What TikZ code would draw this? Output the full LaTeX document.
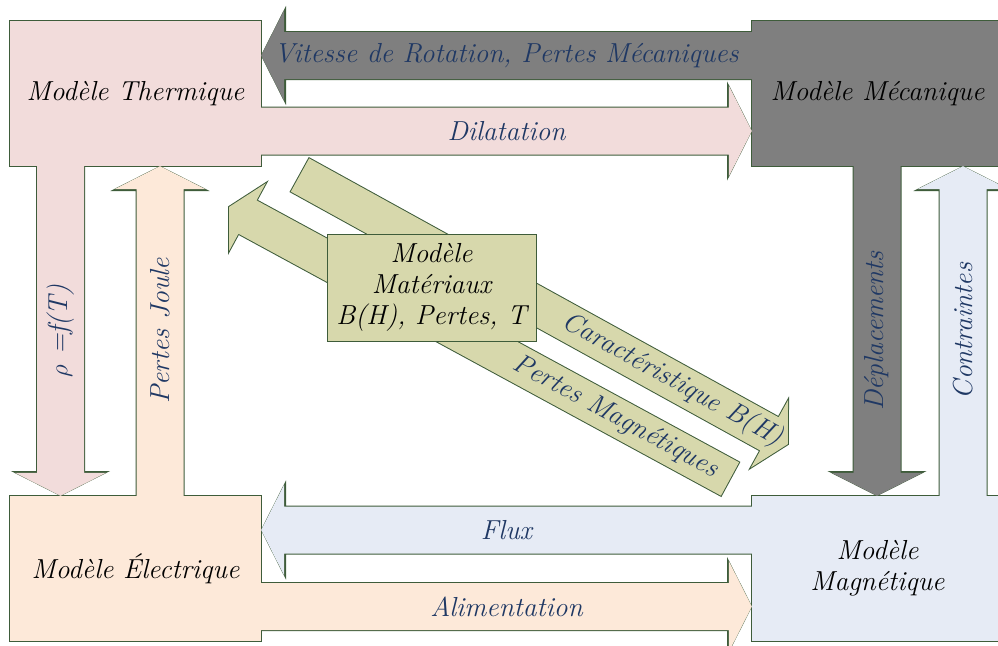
\documentclass[tikz,border=0pt]{standalone}
\usetikzlibrary{calc}

\definecolor{thermc}{RGB}{242,220,219}
\definecolor{elecc}{RGB}{253,233,217}
\definecolor{mecac}{RGB}{127,127,127}
\definecolor{magnc}{RGB}{230,235,245}
\definecolor{matc}{RGB}{215,216,172}
\definecolor{edge}{RGB}{62,92,58}
\definecolor{lblc}{RGB}{31,56,100}

\newcommand{\boxfont}{\fontsize{27.5}{31}\selectfont\itshape}
\newif\ifwithtext \withtexttrue
\newcommand{\tx}[1]{\ifwithtext#1\fi}

\tikzset{
  bw/.store in=\bw, hw/.store in=\hw, hl/.store in=\hl,
  bw=23.5, hw=45.5, hl=23,
  ol/.style={draw=edge, line width=2pt},
  model/.style={ol, minimum width=251pt, minimum height=145pt, inner sep=0pt, align=center, font=\boxfont},
  lbl/.style={text=lblc, font=\boxfont, inner sep=0pt},
  thermo/.style={fill=thermc}, electro/.style={fill=elecc},
  mecano/.style={fill=mecac}, magno/.style={fill=magnc}, mater/.style={fill=matc}
}

% block arrow: [style]{from}{to}{label pos}{label}
\newcommand{\blockarrow}[5][]{%
  \path[ol, #1] let \p1=(#2), \p2=(#3),
    \n1={atan2(\y2-\y1,\x2-\x1)}, \n2={veclen(\x2-\x1,\y2-\y1)},
    \n3={mod(\n1+269.99,180)-89.99} in
    ($(\p1)+(\n1+90:\bw)$) -- ($(\p1)+(\n1:\n2-\hl)+(\n1+90:\bw)$)
    -- ($(\p1)+(\n1:\n2-\hl)+(\n1+90:\hw)$) -- (\p2)
    -- ($(\p1)+(\n1:\n2-\hl)+(\n1-90:\hw)$) -- ($(\p1)+(\n1:\n2-\hl)+(\n1-90:\bw)$)
    -- ($(\p1)+(\n1-90:\bw)$) -- cycle
    ($(\p1)!#4!(\p2)$) node[lbl, rotate=\n3] {\tx{#5}};
}

\newcommand{\allparts}{%
  \node[model, thermo] (therm) at (135.5,-93.5) {\tx{Modèle Thermique}};
  \node[model, mecano] (meca) at (877.5,-93.5) {\tx{Modèle Mécanique}};
  \node[model, electro] (elec) at (135.5,-568.5) {\tx{Modèle Électrique}};
  \node[model, magno] (magn) at (877.5,-568.5) {\tx{Modèle\\Magnétique}};

  \blockarrow[mecano]{meca.west |- 0,-55.5}{therm.east |- 0,-55.5}{.5}{Vitesse de Rotation, Pertes Mécaniques}
  \blockarrow[thermo]{therm.east |- 0,-131}{meca.west |- 0,-131}{.5}{Dilatation}
  \blockarrow[magno]{magn.west |- 0,-530}{elec.east |- 0,-530}{.5}{Flux}
  \blockarrow[electro]{elec.east |- 0,-606.5}{magn.west |- 0,-606.5}{.5}{Alimentation}
  \blockarrow[thermo]{therm.south -| 60.5,0}{elec.north -| 60.5,0}{.5}{$\rho$ =f(T)}
  \blockarrow[electro]{elec.north -| 160,0}{therm.south -| 160,0}{.5}{Pertes Joule}
  \blockarrow[mecano]{meca.south -| 877,0}{magn.north -| 877,0}{.5}{Déplacements}
  \blockarrow[magno]{magn.north -| 963,0}{meca.south -| 963,0}{.5}{Contraintes}

  \blockarrow[mater, bw=19, hw=38.5, hl=21]{cartail}{carhead}{.763}{Caractéristique B(H)}
  \blockarrow[mater, bw=19, hw=38.5, hl=21]{pmtail}{pmhead}{.228}{Pertes Magnétiques}
}

\begin{document}
\begin{tikzpicture}[x=1pt, y=1pt]
\useasboundingbox (0,0) rectangle (998,-645);
\clip (0,0) rectangle (998,-645);

\coordinate (cartail) at (300,-175);
\coordinate (carhead) at (787.9,-444.1);
\coordinate (pmtail) at (730,-479);
\coordinate (pmhead) at (229,-207);

% outlines first, then the fills hide the inner joints
\begin{scope}[ol/.style={draw=edge, line width=2pt}]
  \withtextfalse
  \allparts
\end{scope}
\begin{scope}[ol/.style={draw=none}]
  \allparts
\end{scope}

\node[draw=edge, line width=1pt, mater, minimum width=209pt, minimum height=107pt,
  inner sep=0pt, align=center, font=\boxfont] (mat) at (431.5,-287.5) {Modèle\\Matériaux\\B(H), Pertes, T};
\end{tikzpicture}
\end{document}
